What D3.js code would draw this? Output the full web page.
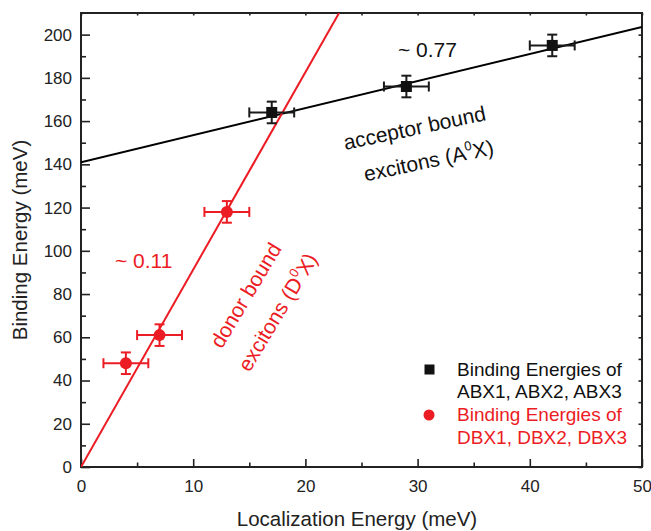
<!DOCTYPE html>
<html>
<head>
<meta charset="utf-8">
<script src="https://cdn.jsdelivr.net/npm/d3@7/dist/d3.min.js"></script>
<style>
  html, body { margin: 0; padding: 0; background: #fff; }
  svg { display: block; font-family: "Liberation Sans", Arial, sans-serif; }
</style>
</head>
<body>
<svg id="chart" width="651" height="531"></svg>
<script>
// Acceptor bound excitons (ABX1..3)
const abxX = [17, 29, 42];
const abxY = [164, 176, 195];
const abxXErr = [2, 2, 2];
const abxYErr = [5, 5, 5];

// Donor bound excitons (DBX1..3)
const dbxX = [4, 7, 13];
const dbxY = [48, 61, 118];
const dbxXErr = [2, 2, 2];
const dbxYErr = [5, 5, 5];

// Linear fit end points
const accFitX = [0, 50];
const accFitY = [141, 203.5];
const donFitX = [0, 23];
const donFitY = [0, 210];

// Axis ticks
const xMajor = [0, 10, 20, 30, 40, 50];
const xMinor = [5, 15, 25, 35, 45];
const yMajor = [0, 20, 40, 60, 80, 100, 120, 140, 160, 180, 200];
const yMinor = [10, 30, 50, 70, 90, 110, 130, 150, 170, 190];

const BLACK = "#111";
const RED = "#ec1c24";
const AXIS = "#222";

const svg = d3.select("#chart");
const plotL = 81, plotR = 642, plotT = 13, plotB = 467;

const x = d3.scaleLinear().domain([0, 50]).range([plotL, plotR]);
const y = d3.scaleLinear().domain([0, 210]).range([plotB, plotT]);

// clip for fit lines
svg.append("defs").append("clipPath").attr("id", "plotClip")
  .append("rect").attr("x", plotL).attr("y", plotT)
  .attr("width", plotR - plotL).attr("height", plotB - plotT);

// ---- axes ----
function styleAxis(g, labelSize) {
  g.select(".domain").remove();
  g.selectAll(".tick line").attr("stroke", AXIS).attr("stroke-width", 1.6);
  g.selectAll(".tick text").attr("fill", AXIS).style("font-size", labelSize + "px")
    .style("font-family", "'Liberation Sans', Arial, sans-serif");
}

svg.append("g").attr("transform", `translate(0,${plotB})`)
  .call(d3.axisBottom(x).tickValues(xMajor).tickSize(-8).tickPadding(13).tickFormat(d3.format("d")))
  .call(g => styleAxis(g, 17));
svg.append("g").attr("transform", `translate(0,${plotB})`)
  .call(d3.axisBottom(x).tickValues(xMinor).tickSize(-4.5).tickFormat(""))
  .call(g => styleAxis(g, 17));

svg.append("g").attr("transform", `translate(${plotL},0)`)
  .call(d3.axisLeft(y).tickValues(yMajor).tickSize(-9).tickPadding(9).tickFormat(d3.format("d")))
  .call(g => styleAxis(g, 17));
svg.append("g").attr("transform", `translate(${plotL},0)`)
  .call(d3.axisLeft(y).tickValues(yMinor).tickSize(-5).tickFormat(""))
  .call(g => styleAxis(g, 17));

// top and right mirror ticks (short, unlabeled)
svg.append("g").attr("transform", `translate(0,${plotT})`)
  .call(d3.axisTop(x).tickValues(xMajor.concat(xMinor)).tickSize(-2.5).tickFormat(""))
  .call(g => styleAxis(g, 17));
svg.append("g").attr("transform", `translate(${plotR},0)`)
  .call(d3.axisRight(y).tickValues(yMajor.concat(yMinor)).tickSize(-3.5).tickFormat(""))
  .call(g => styleAxis(g, 17));

// frame
svg.append("rect").attr("x", plotL).attr("y", plotT)
  .attr("width", plotR - plotL).attr("height", plotB - plotT)
  .attr("fill", "none").attr("stroke", AXIS).attr("stroke-width", 2);

// axis titles
svg.append("text").attr("x", 357).attr("y", 526).attr("text-anchor", "middle")
  .attr("fill", AXIS).style("font-size", "20.5px").text("Localization Energy (meV)");
svg.append("text").attr("transform", "translate(27,240) rotate(-90)").attr("text-anchor", "middle")
  .attr("fill", AXIS).style("font-size", "20.5px").text("Binding Energy (meV)");

// ---- fit lines ----
const line = d3.line().x(d => x(d[0])).y(d => y(d[1]));
const plot = svg.append("g").attr("clip-path", "url(#plotClip)");
plot.append("path").datum(d3.zip(accFitX, accFitY)).attr("d", line)
  .attr("fill", "none").attr("stroke", "#000").attr("stroke-width", 2);
plot.append("path").datum(d3.zip(donFitX, donFitY)).attr("d", line)
  .attr("fill", "none").attr("stroke", RED).attr("stroke-width", 2);

// ---- error bars + markers ----
function errorBars(xs, ys, xe, ye, color) {
  const g = svg.append("g").attr("stroke", color).attr("stroke-width", 2).attr("fill", "none");
  const cap = 5;
  xs.forEach((xv, i) => {
    const cx = x(xv), cy = y(ys[i]);
    const x0 = x(xv - xe[i]), x1 = x(xv + xe[i]);
    const y0 = y(ys[i] - ye[i]), y1 = y(ys[i] + ye[i]);
    g.append("line").attr("x1", x0).attr("x2", x1).attr("y1", cy).attr("y2", cy);
    g.append("line").attr("x1", x0).attr("x2", x0).attr("y1", cy - cap).attr("y2", cy + cap);
    g.append("line").attr("x1", x1).attr("x2", x1).attr("y1", cy - cap).attr("y2", cy + cap);
    g.append("line").attr("x1", cx).attr("x2", cx).attr("y1", y0).attr("y2", y1);
    g.append("line").attr("x1", cx - cap).attr("x2", cx + cap).attr("y1", y0).attr("y2", y0);
    g.append("line").attr("x1", cx - cap).attr("x2", cx + cap).attr("y1", y1).attr("y2", y1);
  });
}
errorBars(abxX, abxY, abxXErr, abxYErr, "#1a1a1a");
errorBars(dbxX, dbxY, dbxXErr, dbxYErr, RED);

svg.append("g").selectAll("rect").data(d3.zip(abxX, abxY)).join("rect")
  .attr("x", d => x(d[0]) - 5.5).attr("y", d => y(d[1]) - 5.5)
  .attr("width", 11).attr("height", 11).attr("fill", BLACK);
svg.append("g").selectAll("circle").data(d3.zip(dbxX, dbxY)).join("circle")
  .attr("cx", d => x(d[0])).attr("cy", d => y(d[1])).attr("r", 6).attr("fill", RED);

// ---- annotations ----
svg.append("text").attr("x", 398).attr("y", 57).attr("fill", BLACK)
  .style("font-size", "21px").text("~ 0.77");
svg.append("text").attr("x", 115).attr("y", 268).attr("fill", RED)
  .style("font-size", "21px").text("~ 0.11");

const acc = svg.append("g").attr("transform", "translate(416,135) rotate(-12)")
  .attr("fill", BLACK).style("font-size", "21px").attr("text-anchor", "middle");
acc.append("text").attr("x", 0).attr("y", 0).text("acceptor bound");
const acc2 = acc.append("text").attr("x", 7).attr("y", 35);
acc2.append("tspan").text("excitons (A");
acc2.append("tspan").attr("dy", -9).style("font-size", "13px").text("0");
acc2.append("tspan").attr("dy", 9).text("X)");

const don = svg.append("g").attr("transform", "translate(252,299) rotate(-59)")
  .attr("fill", RED).style("font-size", "21px").attr("text-anchor", "middle");
don.append("text").attr("x", 0).attr("y", 0).text("donor bound");
const don2 = don.append("text").attr("x", 2).attr("y", 36);
don2.append("tspan").text("excitons (D");
don2.append("tspan").attr("dy", -9).style("font-size", "13px").text("0");
don2.append("tspan").attr("dy", 9).text("X)");

// ---- legend ----
const leg = svg.append("g").style("font-size", "19px");
leg.append("rect").attr("x", 424.5).attr("y", 364.5).attr("width", 10).attr("height", 10).attr("fill", BLACK);
leg.append("text").attr("x", 457).attr("y", 376).attr("fill", BLACK).text("Binding Energies of");
leg.append("text").attr("x", 457).attr("y", 398).attr("fill", BLACK).text("ABX1, ABX2, ABX3");
leg.append("circle").attr("cx", 429).attr("cy", 415).attr("r", 5.5).attr("fill", RED);
leg.append("text").attr("x", 457).attr("y", 421).attr("fill", RED).text("Binding Energies of");
leg.append("text").attr("x", 457).attr("y", 444).attr("fill", RED).text("DBX1, DBX2, DBX3");
</script>
</body>
</html>
